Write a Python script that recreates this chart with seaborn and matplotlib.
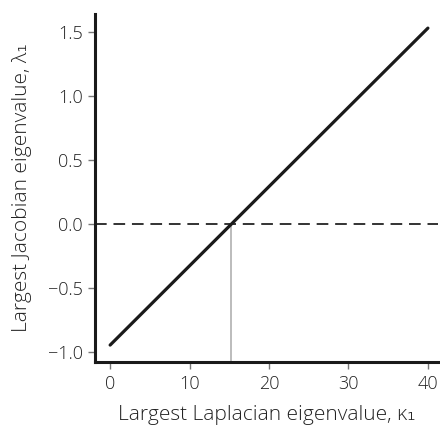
import matplotlib
matplotlib.use("Agg")
import matplotlib.pyplot as plt
import seaborn as sns
import pandas as pd

# data
kappa = [0.0, 10.0, 20.0, 30.0, 40.0]
lam = [-0.945, -0.326, 0.293, 0.912, 1.53]
kappa_crit = 15.2
x_ticks = [0, 10, 20, 30, 40]
y_ticks = [-1.0, -0.5, 0.0, 0.5, 1.0, 1.5]

df = pd.DataFrame({"kappa": kappa, "lam": lam})

sns.set_style("ticks")
plt.rcParams["font.family"] = ["Open Sans", "DejaVu Sans"]
plt.rcParams["font.weight"] = "light"

fig = plt.figure(figsize=(4.4, 4.25), dpi=100)
ax = fig.add_axes([0.216, 0.148, 0.78, 0.819])

ax.axhline(0, color="#333333", lw=1.4, ls=(0, (6, 3.5)), zorder=1)
ax.plot([kappa_crit, kappa_crit], [-1.2, 0], color="#b0b0b0", lw=1.2, zorder=1)
sns.lineplot(data=df, x="kappa", y="lam", color="#1a1a1a", lw=2.3, ax=ax, zorder=2)

ax.set_xlim(-1.9, 41.3)
ax.set_ylim(-1.078, 1.64)
ax.set_xticks(x_ticks)
ax.set_yticks(y_ticks)
ax.set_xticklabels([str(t) for t in x_ticks])
ax.set_yticklabels([f"{t:.1f}".replace("-", "\u2212") for t in y_ticks])

for s in ["left", "bottom"]:
    ax.spines[s].set_linewidth(2.2)
    ax.spines[s].set_color("#1a1a1a")
sns.despine(ax=ax)
ax.tick_params(axis="both", length=5, width=1, color="#777777",
               labelsize=13, labelcolor="#222222", pad=4)

ax.set_xlabel("Largest Laplacian eigenvalue, \u03ba\u2081", fontsize=15, fontweight="light",
              color="#222222", labelpad=9)
ax.set_ylabel("Largest Jacobian eigenvalue, \u03bb\u2081", fontsize=15, fontweight="light",
              color="#222222", labelpad=11)

fig.savefig("out.png", dpi=100)
